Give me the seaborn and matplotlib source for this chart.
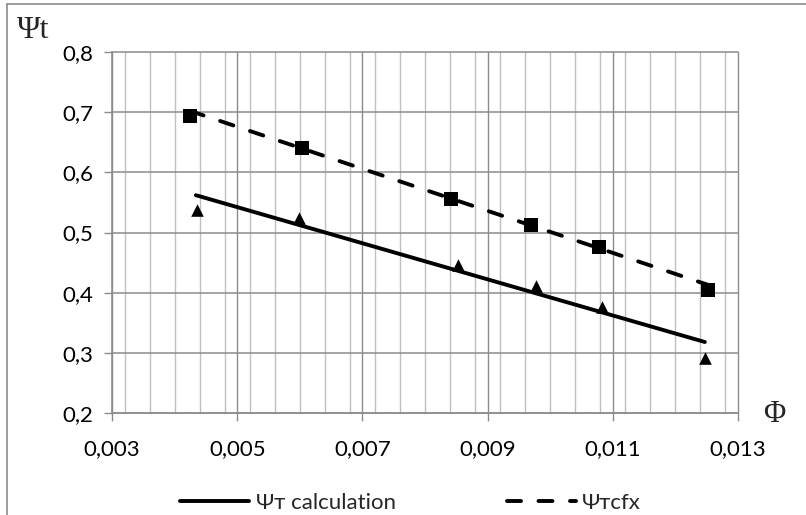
import matplotlib
matplotlib.use("Agg")
import matplotlib.pyplot as plt
import matplotlib.ticker as mticker
from matplotlib.lines import Line2D
import seaborn as sns
import pandas as pd

# ---- data ----
phi_cfx = [0.00425, 0.00604, 0.00841, 0.00969, 0.01078, 0.01252]
psi_cfx = [0.693, 0.641, 0.556, 0.513, 0.4755, 0.405]
phi_calc = [0.00436, 0.00599, 0.00852, 0.00978, 0.01083, 0.01248]
psi_calc = [0.538, 0.5245, 0.446, 0.4105, 0.377, 0.292]
# trend lines (straight, read at their ends)
calc_line_phi = [0.00434, 0.01247]
calc_line_psi = [0.562, 0.318]
cfx_line_phi = [0.00425, 0.01252]
cfx_line_psi = [0.702, 0.413]
x_ticks = [0.003, 0.005, 0.007, 0.009, 0.011, 0.013]
y_ticks = [0.2, 0.3, 0.4, 0.5, 0.6, 0.7, 0.8]
label_calc = "Ψт calculation"
label_cfx = "Ψтcfx"

sns.set_theme(style="white")
plt.rcParams['font.family'] = ['Lato', 'DejaVu Sans']

W, H = 806, 515
fig = plt.figure(figsize=(W / 100, H / 100), dpi=100)
ax = fig.add_axes([112 / W, 1 - 413 / H, (738 - 112) / W, (413 - 52) / H])

grid_dark = '#8c8c8c'
grid_light = '#bfbfbf'
LW = 2.8
DASH = (3.6, 4.5)

df_cfx = pd.DataFrame({'phi': phi_cfx, 'psi': psi_cfx})
df_calc = pd.DataFrame({'phi': phi_calc, 'psi': psi_calc})
df_cl = pd.DataFrame({'phi': calc_line_phi, 'psi': calc_line_psi})
df_fl = pd.DataFrame({'phi': cfx_line_phi, 'psi': cfx_line_psi})

sns.lineplot(data=df_cl, x='phi', y='psi', ax=ax, color='black', lw=LW,
             label=label_calc, solid_capstyle='round', zorder=3)
sns.lineplot(data=df_fl, x='phi', y='psi', ax=ax, color='black', lw=LW,
             label=label_cfx, zorder=3)
dash_line = ax.lines[-1]
dash_line.set_dashes(DASH)
dash_line.set_dash_capstyle('round')

sns.scatterplot(data=df_cfx, x='phi', y='psi', ax=ax, marker='s', s=92,
                color='black', linewidth=0, zorder=4, legend=False)
sns.scatterplot(data=df_calc, x='phi', y='psi', ax=ax, marker='^', s=82,
                color='black', linewidth=0, zorder=4, legend=False)

ax.set_xlim(0.003, 0.013)
ax.set_ylim(0.2, 0.8)
ax.xaxis.set_major_locator(mticker.FixedLocator(x_ticks))
ax.xaxis.set_minor_locator(mticker.MultipleLocator(0.0004))
ax.yaxis.set_major_locator(mticker.FixedLocator(y_ticks))
ax.xaxis.set_major_formatter(mticker.FuncFormatter(lambda v, p: f"{v:.3f}".replace('.', ',')))
ax.yaxis.set_major_formatter(mticker.FuncFormatter(lambda v, p: f"{v:.1f}".replace('.', ',')))

ax.grid(True, which='minor', axis='x', color=grid_light, lw=1.0)
ax.grid(True, which='major', axis='x', color=grid_dark, lw=1.0)
ax.grid(True, which='major', axis='y', color=grid_dark, lw=1.1)
ax.set_axisbelow(True)
for gl in ax.get_xgridlines() + ax.get_ygridlines():
    gl.set_clip_on(False)

for s in ['top', 'right']:
    ax.spines[s].set_visible(False)
for s in ['left', 'bottom']:
    ax.spines[s].set_color(grid_dark)
    ax.spines[s].set_linewidth(1.1)

ax.tick_params(axis='both', which='major', direction='out', length=5.5,
               width=1.0, color=grid_dark, labelsize=16, labelcolor='black')
ax.tick_params(axis='x', which='major', pad=13, bottom=True)
ax.tick_params(axis='y', which='major', pad=8, left=True)
ax.tick_params(axis='x', which='minor', length=0)
ax.set_xlabel('')
ax.set_ylabel('')

# axis titles
fig.text(17 / W, 1 - 30 / H, "Ψt", family=['Liberation Serif', 'DejaVu Serif'],
         fontsize=23, ha='left', va='center')
fig.text(774 / W, 1 - 414 / H, "Φ", family=['Liberation Serif', 'DejaVu Serif'],
         fontsize=22, ha='center', va='center')

# legend
ax.get_legend().remove()
handles = [Line2D([0], [0], color='black', lw=LW),
           Line2D([0], [0], color='black', lw=LW, dashes=DASH, dash_capstyle='round')]
fig.legend(handles, [label_calc, label_cfx], loc='center left',
           bbox_to_anchor=(180 / W, 1 - 503 / H), ncol=2, frameon=False,
           fontsize=16, handlelength=3.1, handletextpad=0.3, columnspacing=5.0,
           borderaxespad=0, borderpad=0)

# chart-area border (top and left visible)
fig.add_artist(Line2D([7 / W, 1], [1 - 4 / H, 1 - 4 / H], transform=fig.transFigure,
                      color='#8c8c8c', lw=1.2))
fig.add_artist(Line2D([7 / W, 7 / W], [0, 1 - 4 / H], transform=fig.transFigure,
                      color='#8c8c8c', lw=1.2))

fig.savefig('out.png', dpi=100)
